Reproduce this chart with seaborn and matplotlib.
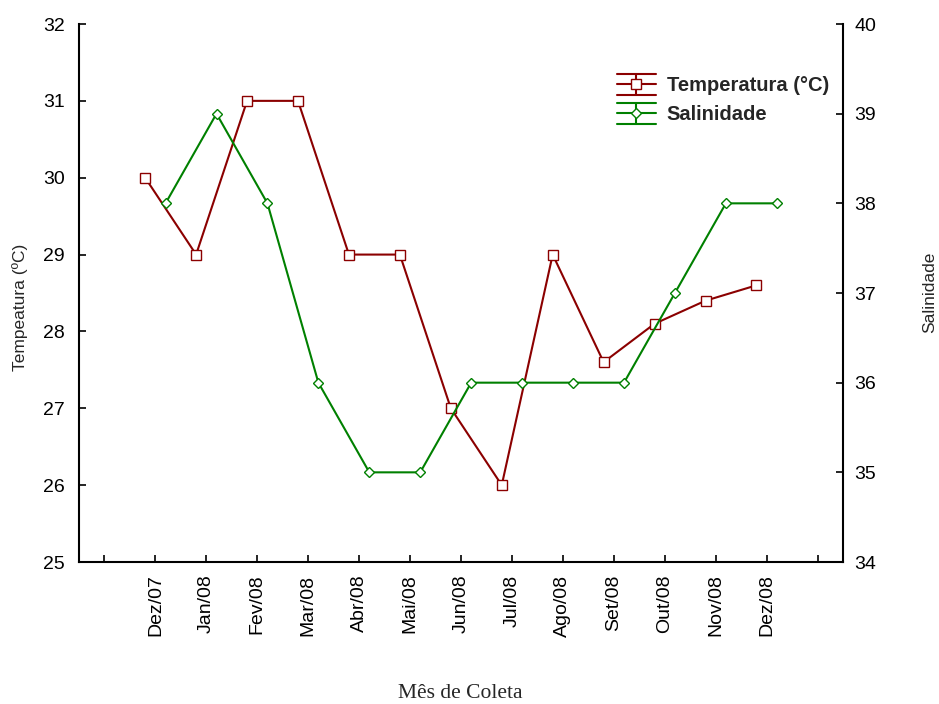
import matplotlib as mpl
import matplotlib.pyplot as plt
import seaborn as sns
import pandas as pd
import numpy as np
from matplotlib.legend_handler import HandlerBase
from matplotlib.lines import Line2D

meses = ['Dez/07', 'Jan/08', 'Fev/08', 'Mar/08', 'Abr/08', 'Mai/08', 'Jun/08',
         'Jul/08', 'Ago/08', 'Set/08', 'Out/08', 'Nov/08', 'Dez/08']
temperatura = [30.0, 29.0, 31.0, 31.0, 29.0, 29.0, 27.0, 26.0, 29.0, 27.6, 28.1, 28.4, 28.6]
salinidade = [38, 39, 38, 36, 35, 35, 36, 36, 36, 36, 37, 38, 38]

sns.set_style('ticks')
plt.rcParams['font.family'] = ['Liberation Sans', 'DejaVu Sans']

cor_temp = '#8b0000'
cor_sal = '#008000'

pos = np.arange(len(meses))
df = pd.DataFrame({'mes': meses, 'pos': pos,
                   'temp': temperatura, 'sal': salinidade})
df['x_temp'] = df['pos'] - 0.2
df['x_sal'] = df['pos'] + 0.2

fig = plt.figure(figsize=(9.39, 7.04), dpi=100)
ax = fig.add_axes([0.0841, 0.2017, 0.8137, 0.7642])
ax2 = ax.twinx()

sns.lineplot(data=df, x='x_temp', y='temp', ax=ax, color=cor_temp, linewidth=1.5,
             marker='s', markersize=7, markerfacecolor='white',
             markeredgecolor=cor_temp, markeredgewidth=1.0)
sns.lineplot(data=df, x='x_sal', y='sal', ax=ax2, color=cor_sal, linewidth=1.5,
             marker='D', markersize=5, markerfacecolor='white',
             markeredgecolor=cor_sal, markeredgewidth=1.0)

ax.set_xlim(-1.5, 13.5)
ax.set_ylim(25, 32)
ax2.set_ylim(34, 40)
ax.set_xticks(np.arange(-1, 14))
ax.set_xticklabels([''] + meses + [''], rotation=90)
ax.set_yticks(np.arange(25, 33))
ax2.set_yticks(np.arange(34, 41))

for a in (ax, ax2):
    a.spines['top'].set_visible(False)
    for s in a.spines.values():
        s.set_linewidth(1.5)
        s.set_color('black')
    a.tick_params(direction='in', length=5, width=1.2, labelsize=14, colors='black')
ax.spines['right'].set_visible(False)
ax2.spines['left'].set_visible(False)
ax2.spines['bottom'].set_visible(False)
ax.tick_params(axis='x', pad=9)
ax.tick_params(axis='y', pad=10)
ax2.tick_params(axis='y', pad=8)

ax.set_xlabel('')
ax.set_ylabel('')
ax2.set_ylabel('')
fig.text(0.4898, 1 - 693 / 704, 'Mês de Coleta', family=['Liberation Serif', 'DejaVu Serif'],
         fontsize=15.5, ha='center', va='center')
fig.text(20 / 939, 1 - 307 / 704, 'Tempeatura (ºC)', fontsize=12.5, rotation=90,
         ha='center', va='center')
fig.text(930 / 939, 1 - 292 / 704, 'Salinidade', fontsize=12.5, rotation=90,
         ha='center', va='center')


class HandlerErr(HandlerBase):
    def __init__(self, color, marker, ms):
        super().__init__()
        self.color, self.marker, self.ms = color, marker, ms

    def create_artists(self, legend, orig, xd, yd, w, h, fs, trans):
        cy = h / 2 - yd
        d = h * 0.75
        arts = []
        for yy in (cy - d, cy, cy + d):
            arts.append(Line2D([-xd, -xd + w], [yy, yy], color=self.color, lw=1.5, transform=trans))
        arts.append(Line2D([-xd + w / 2] * 2, [cy - d, cy + d], color=self.color, lw=1.5, transform=trans))
        arts.append(Line2D([-xd + w / 2], [cy], marker=self.marker, ms=self.ms, mfc='white',
                           mec=self.color, color=self.color, transform=trans))
        return arts


h1 = Line2D([], [], color=cor_temp)
h2 = Line2D([], [], color=cor_sal)
leg = ax2.legend([h1, h2], ['Temperatura (°C)', 'Salinidade'],
                 handler_map={h1: HandlerErr(cor_temp, 's', 7), h2: HandlerErr(cor_sal, 'D', 5)},
                 loc='upper left', bbox_to_anchor=(0.694, 0.918), frameon=False,
                 prop={'weight': 'bold', 'size': 14.5}, handlelength=1.9,
                 handletextpad=0.55, labelspacing=0.5, borderaxespad=0)

fig.savefig('out.png', dpi=100)
